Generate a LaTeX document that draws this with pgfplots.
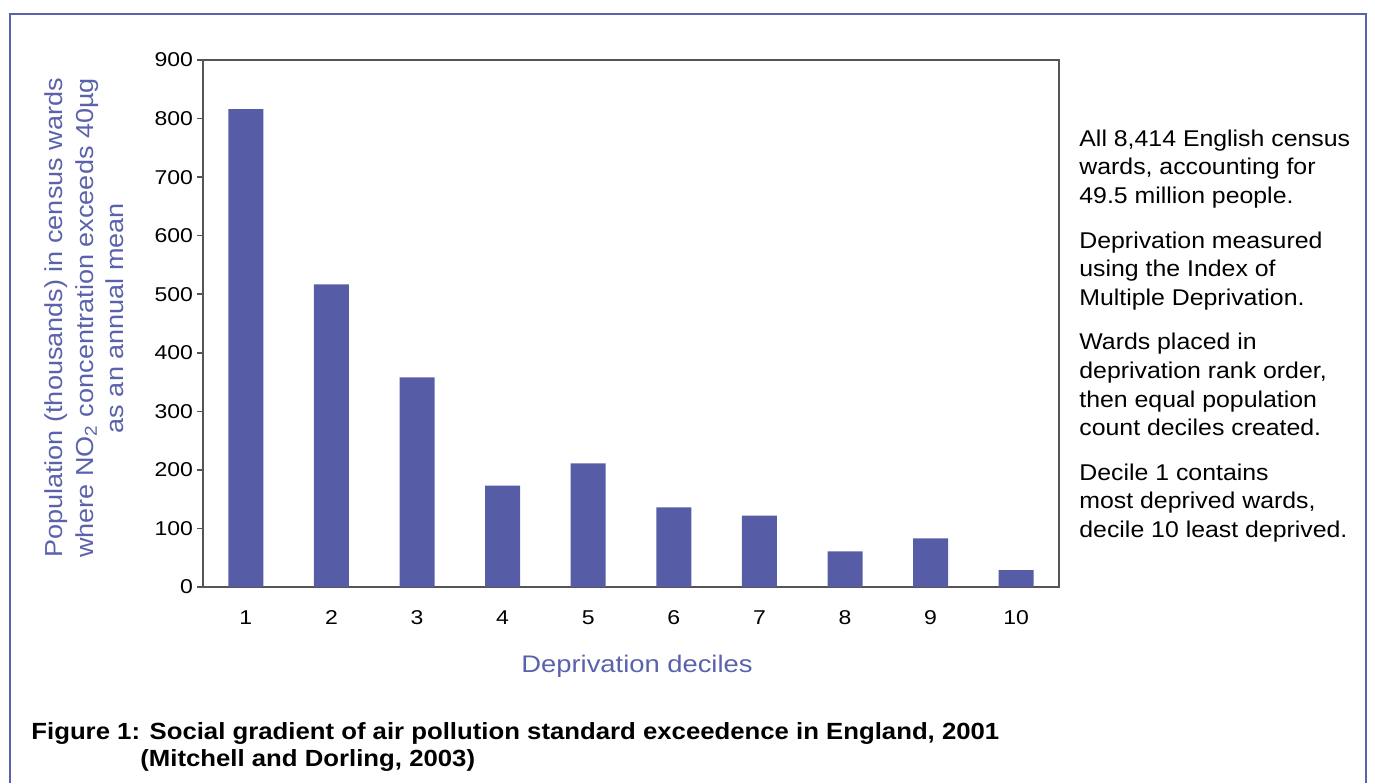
\documentclass[border=0pt]{standalone}
\usepackage{pgfplots}
\pgfplotsset{compat=1.18}
\usepackage{fontspec}
\setmainfont{Liberation Sans}
\newfontfamily\tickfont[FakeStretch=1.15]{Liberation Sans}
\newfontfamily\sidefont[FakeStretch=1.09]{Liberation Sans}
\newfontfamily\ylabfont[FakeStretch=1.10]{Liberation Sans}
\newfontfamily\xlabfont[FakeStretch=1.14]{Liberation Sans}
\newfontfamily\capfont[FakeStretch=1.10]{Liberation Sans}
\usepackage{graphicx}
\definecolor{barblue}{HTML}{565DA6}
\definecolor{lblblue}{HTML}{5A62AC}
\definecolor{axgray}{HTML}{555555}
\begin{document}
\begin{tikzpicture}
\path[use as bounding box] (0,0) rectangle (687.5pt,-391.5pt);
\begin{axis}[
  at={(101.5pt,-293.5pt)}, anchor=south west,
  scale only axis, width=428pt, height=263.5pt,
  ymin=0, ymax=900, xmin=0.5, xmax=10.5,
  ytick={0,100,...,900}, xtick={1,...,10},
  ytick pos=left,
  ybar, bar width=17.5pt,
  axis line style={axgray, line width=0.8pt},
  tick style={axgray, line width=0.8pt},
  tick align=outside, major tick length=3pt,
  x tick style={draw=none},
  tick label style={font=\tickfont\fontsize{10}{12}\selectfont, black},
  /pgf/number format/assume math mode=true,
  xticklabel style={anchor=base, yshift=-15.5pt},
  yticklabel style={xshift=1.5pt},
]
\addplot[fill=barblue, draw=none] coordinates {(1,816) (2,517) (3,358) (4,173) (5,211) (6,136) (7,122) (8,61) (9,83) (10,29)};
\end{axis}
\begin{scope}[x=0.5pt,y=-0.5pt]
\draw[lblblue, line width=1pt] (9.5,783) -- (9.5,14) -- (1365.5,14) -- (1365.5,783);
\begin{scope}[every node/.style={font=\ylabfont\fontsize{12.3}{14}\selectfont, text=lblblue, inner sep=0pt}]
\node[rotate=90, anchor=base] at (62.7,318) {Population (thousands) in census wards};
\node[rotate=90, anchor=base] at (93,318) {where NO\textsubscript{2} concentration exceeds 40µg};
\node[rotate=90, anchor=base] at (123,318) {as an annual mean};
\node[anchor=base, font=\xlabfont\fontsize{12}{14}\selectfont] at (637,672) {Deprivation deciles};
\end{scope}
\begin{scope}[every node/.style={font=\sidefont\fontsize{11.4}{13}\selectfont, anchor=base west, inner sep=0pt}]
\node at (1079,146) {All 8,414 English census};
\node at (1079,174) {wards, accounting for};
\node at (1079,203) {49.5 million people.};
\node at (1079,248) {Deprivation measured};
\node at (1079,276) {using the Index of};
\node at (1079,305) {Multiple Deprivation.};
\node at (1079,349) {Wards placed in};
\node at (1079,378) {deprivation rank order,};
\node at (1079,407) {then equal population};
\node at (1079,435) {count deciles created.};
\node at (1079,480) {Decile 1 contains};
\node at (1079,508) {most deprived wards,};
\node at (1079,537) {decile 10 least deprived.};
\end{scope}
\begin{scope}[every node/.style={font=\capfont\fontsize{11.7}{14}\selectfont\bfseries, anchor=base west, inner sep=0pt}]
\node at (31,739) {Figure 1: Social gradient of air pollution standard exceedence in England, 2001};
\node at (140,766) {(Mitchell and Dorling, 2003)};
\end{scope}
\end{scope}
\end{tikzpicture}
\end{document}
